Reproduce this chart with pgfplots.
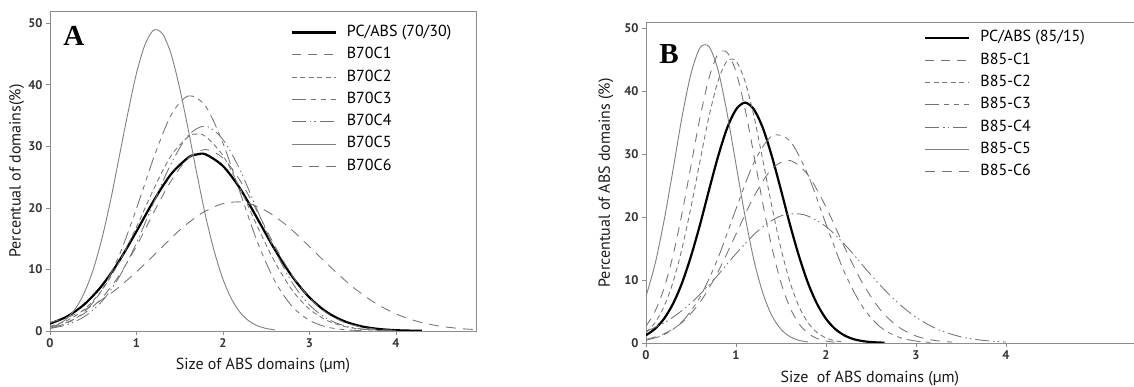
\documentclass[border=0pt]{standalone}
\usepackage{pgfplots}
\pgfplotsset{compat=1.18}
\usepackage{fontspec}
\setmainfont{PT Sans}
\newfontfamily\serifbf{Liberation Serif}
\definecolor{cg}{gray}{0.45}
\definecolor{cg5}{gray}{0.5}
\definecolor{axg}{gray}{0.55}
\tikzset{
  thickc/.style={black, line width=2.2pt},
  c1/.style={cg, line width=0.85pt, dash pattern=on 9pt off 7pt},
  c2/.style={cg, line width=0.85pt, dash pattern=on 5pt off 3.5pt},
  c3/.style={cg, line width=0.85pt, dash pattern=on 14pt off 5pt on 5pt off 5pt on 5pt off 5pt},
  c4/.style={cg, line width=0.85pt, dash pattern=on 14pt off 4pt on 1.5pt off 3pt on 1.5pt off 4pt},
  c5/.style={cg5, line width=0.9pt},
  c6/.style={cg, line width=0.85pt, dash pattern=on 10pt off 7pt},
}
\pgfplotsset{
  myax/.style={
    scale only axis,
    axis line style={draw=axg, line width=0.9pt},
    tick style={draw=axg, line width=0.8pt},
    tick align=outside,
    major tick length=4pt,
    tick pos=left,
    tick label style={font=\fontsize{12.5}{13}\selectfont\bfseries, text=black!80},
    /pgf/number format/assume math mode=true,
    label style={font=\fontsize{16}{17}\selectfont, text=black!90},
    xmin=0, ymin=0,
    xtick={0,1,2,3,4},
    ytick={0,10,20,30,40,50},
    legend cell align=left,
    legend style={draw=none, fill=none, inner sep=0pt,
      font=\fontsize{16}{17}\selectfont,
      row sep=6.3pt,
      nodes={text height=12pt, text depth=4pt, inner ysep=0pt, inner xsep=0pt},
      /tikz/every odd column/.append style={column sep=10pt}},
    legend image code/.code={\draw[##1] (0pt,0pt) -- (44pt,0pt);},
  },
}
\begin{document}
\begin{tikzpicture}
\useasboundingbox (0,0) rectangle (1134pt,387pt);
% Panel A
\begin{axis}[myax,
  at={(50pt,56pt)}, anchor=south west,
  width=426pt, height=320pt,
  xmax=4.925, ymax=52.0,
  xlabel={Size of ABS domains (µm)},
  ylabel={Percentual of domains(\%)},
  xlabel style={at={(axis description cs:0.5,-0.108)}, anchor=center},
  ylabel style={at={(axis description cs:-0.078,0.5)}, anchor=center},
  legend style={at={(axis cs:2.78,49.84)}, anchor=north west},
]
\addplot[thickc, smooth] coordinates {(0,1.20)(0.2,2.38)(0.4,4.37)(0.6,7.36)(0.8,11.39)(1.0,16.2)(1.2,21.2)(1.4,25.5)(1.6,28.2)(1.7,28.7)(1.8,28.7)(2.0,26.8)(2.2,23.1)(2.4,18.2)(2.6,13.2)(2.8,8.85)(3.0,5.44)(3.2,3.07)(3.4,1.60)(3.6,0.76)(3.8,0.33)(4.0,0.13)(4.2,0.05)(4.3,0.03)};
\addlegendentry{PC/ABS (70/30)}
\addplot[c1, smooth] coordinates {(0,0.64)(0.2,1.42)(0.4,2.90)(0.6,5.37)(0.8,9.04)(1.0,13.8)(1.2,19.3)(1.4,24.4)(1.6,28.1)(1.8,29.5)(2.0,28.1)(2.2,24.4)(2.4,19.3)(2.6,13.8)(2.8,9.04)(3.0,5.37)(3.2,2.90)(3.4,1.42)(3.6,0.64)(3.8,0.26)(4.0,0.10)};
\addlegendentry{B70C1}
\addplot[c2, smooth] coordinates {(0,0.75)(0.2,1.72)(0.4,3.55)(0.6,6.63)(0.8,11.2)(1.0,16.9)(1.2,23.1)(1.4,28.5)(1.6,31.6)(1.7,32.0)(1.8,31.6)(2.0,28.5)(2.2,23.1)(2.4,16.9)(2.6,11.2)(2.8,6.63)(3.0,3.55)(3.2,1.72)(3.4,0.75)(3.6,0.29)(3.8,0.10)(4.0,0.03)};
\addlegendentry{B70C2}
\addplot[c3, smooth] coordinates {(0,0.47)(0.2,1.30)(0.4,3.14)(0.6,6.63)(0.8,12.3)(1.0,19.9)(1.2,28.2)(1.4,35.1)(1.6,38.2)(1.8,36.5)(2.0,30.5)(2.2,22.4)(2.4,14.4)(2.6,8.09)(2.8,3.99)(3.0,1.72)(3.2,0.65)(3.4,0.22)(3.6,0.06)};
\addlegendentry{B70C3}
\addplot[c4, smooth] coordinates {(0,0.41)(0.2,1.04)(0.4,2.36)(0.6,4.81)(0.8,8.77)(1.0,14.3)(1.2,20.9)(1.4,27.2)(1.6,31.8)(1.8,33.3)(2.0,31.1)(2.2,26.1)(2.4,19.5)(2.6,13.1)(2.8,7.85)(3.0,4.22)(3.2,2.02)(3.4,0.87)(3.6,0.33)(3.8,0.12)(4.0,0.04)};
\addlegendentry{B70C4}
\addplot[c5, smooth] coordinates {(0,0.54)(0.1,1.10)(0.2,2.09)(0.3,3.74)(0.4,6.32)(0.5,10.0)(0.6,15.0)(0.7,21.2)(0.8,28.3)(0.9,35.4)(1.0,41.9)(1.1,46.6)(1.2,48.9)(1.3,48.3)(1.4,45.0)(1.5,39.4)(1.6,32.6)(1.7,25.4)(1.8,18.6)(1.9,12.9)(2.0,8.40)(2.1,5.16)(2.2,2.98)(2.3,1.63)(2.4,0.84)(2.5,0.41)(2.6,0.18)};
\addlegendentry{B70C5}
\addplot[c6, smooth] coordinates {(0,1.37)(0.25,2.49)(0.5,4.21)(0.75,6.60)(1.0,9.62)(1.25,13.0)(1.5,16.4)(1.75,19.1)(2.0,20.7)(2.25,20.9)(2.5,19.5)(2.75,17.0)(3.0,13.7)(3.25,10.3)(3.5,7.16)(3.75,4.63)(4.0,2.78)(4.25,1.55)(4.5,0.80)(4.75,0.39)(4.95,0.20)};
\addlegendentry{B70C6}
\node[font=\serifbf\bfseries\fontsize{29}{31}\selectfont] at (axis cs:0.277,48.0) {A};
\end{axis}
% Panel B
\begin{axis}[myax,
  at={(646pt,44pt)}, anchor=south west,
  width=492pt, height=320.3pt,
  xmax=5.467, ymax=50.9,
  xlabel={Size\ \ of ABS domains (µm)},
  ylabel={Percentual of ABS domains (\%)},
  xlabel style={at={(axis description cs:0.455,-0.1125)}, anchor=center},
  ylabel style={at={(axis description cs:-0.0813,0.5)}, anchor=center},
  legend style={at={(axis cs:3.09,49.8)}, anchor=north west},
]
\addplot[thickc, smooth] coordinates {(0,1.24)(0.1,2.25)(0.2,3.85)(0.3,6.23)(0.4,9.53)(0.5,13.8)(0.6,18.8)(0.7,24.3)(0.8,29.6)(0.9,34.1)(1.0,37.1)(1.1,38.2)(1.2,37.1)(1.3,34.1)(1.4,29.6)(1.5,24.3)(1.6,18.8)(1.7,13.8)(1.8,9.53)(1.9,6.23)(2.0,3.85)(2.1,2.25)(2.2,1.24)(2.3,0.64)(2.4,0.32)(2.5,0.15)(2.65,0.04)};
\addlegendentry{PC/ABS (85/15)}
\addplot[c1, smooth] coordinates {(0,2.68)(0.1,5.01)(0.2,8.67)(0.3,13.9)(0.4,20.6)(0.5,28.2)(0.6,35.8)(0.7,42.1)(0.8,45.9)(0.9,46.2)(1.0,43.1)(1.1,37.2)(1.2,29.8)(1.3,22.0)(1.4,15.1)(1.5,9.58)(1.6,5.62)(1.7,3.06)(1.8,1.54)(1.9,0.72)(2.0,0.31)(2.1,0.12)};
\addlegendentry{B85-C1}
\addplot[c2, smooth] coordinates {(0,1.67)(0.1,3.23)(0.2,5.79)(0.3,9.66)(0.4,15.0)(0.5,21.6)(0.6,28.9)(0.7,36.0)(0.8,41.6)(0.9,44.8)(1.0,44.8)(1.1,41.6)(1.2,36.0)(1.3,28.9)(1.4,21.6)(1.5,15.0)(1.6,9.66)(1.7,5.79)(1.8,3.23)(1.9,1.67)(2.0,0.81)(2.1,0.36)(2.2,0.15)};
\addlegendentry{B85-C2}
\addplot[c3, smooth] coordinates {(0,0.44)(0.2,1.32)(0.4,3.36)(0.6,7.30)(0.8,13.5)(1.0,21.3)(1.2,28.7)(1.4,32.9)(1.6,32.1)(1.8,26.7)(2.0,18.9)(2.2,11.4)(2.4,5.89)(2.6,2.58)(2.8,0.96)(3.0,0.31)(3.2,0.08)};
\addlegendentry{B85-C3}
\addplot[c4, smooth] coordinates {(0,1.83)(0.25,3.61)(0.5,6.36)(0.75,10.0)(1.0,14.2)(1.25,17.9)(1.5,20.2)(1.75,20.4)(2.0,18.5)(2.25,15.0)(2.5,10.8)(2.75,7.02)(3.0,4.08)(3.25,2.12)(3.5,0.98)(3.75,0.41)(4.0,0.15)};
\addlegendentry{B85-C4}
\addplot[c5, smooth] coordinates {(0,7.43)(0.1,12.5)(0.2,19.4)(0.3,27.5)(0.4,35.9)(0.5,42.8)(0.6,46.9)(0.7,47.1)(0.8,43.4)(0.9,36.6)(1.0,28.4)(1.1,20.2)(1.2,13.1)(1.3,7.86)(1.4,4.31)(1.5,2.17)(1.6,1.00)(1.7,0.42)(1.8,0.16)};
\addlegendentry{B85-C5}
\addplot[c6, smooth] coordinates {(0,0.57)(0.2,1.46)(0.4,3.27)(0.6,6.47)(0.8,11.3)(1.0,17.3)(1.2,23.3)(1.4,27.7)(1.6,29.0)(1.8,26.7)(2.0,21.6)(2.2,15.4)(2.4,9.67)(2.6,5.35)(2.8,2.60)(3.0,1.11)(3.2,0.42)(3.4,0.14)};
\addlegendentry{B85-C6}
\node[font=\serifbf\bfseries\fontsize{29}{31}\selectfont] at (axis cs:0.256,45.9) {B};
\end{axis}
\end{tikzpicture}
\end{document}
